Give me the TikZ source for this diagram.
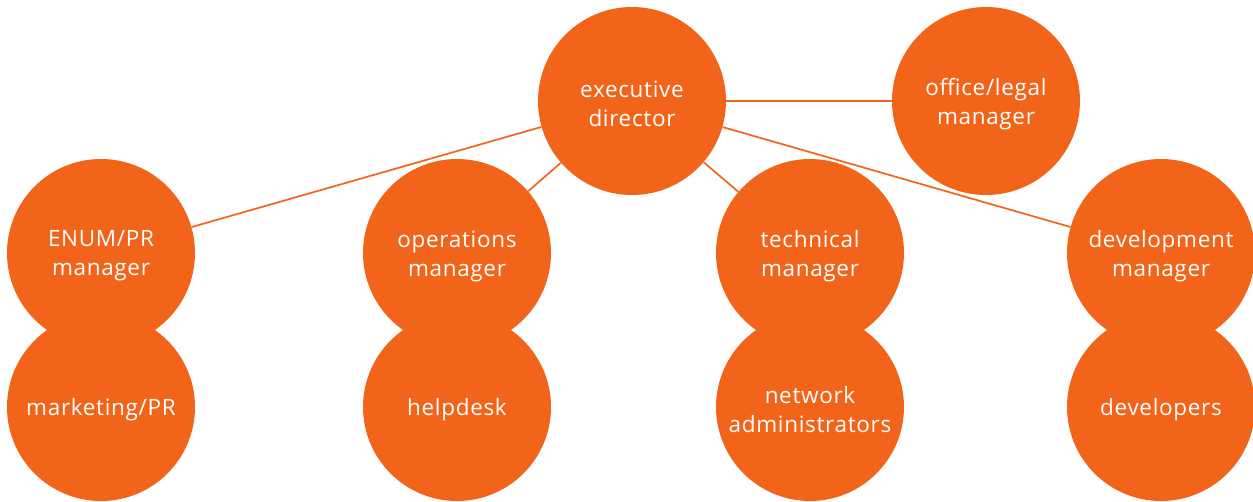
\documentclass[tikz,border=0pt]{standalone}
\usepackage{fontspec}
\setmainfont[LetterSpace=3]{Open Sans}
\usepackage{tikz}
\definecolor{staforange}{HTML}{F2641A}

\begin{document}
\begin{tikzpicture}[x=1pt,y=1pt,
	rolename/.style={text=white,align=center,inner sep=0pt,yshift=-3pt,font=\fontsize{22.5}{29}\selectfont},
	role/.style={circle,fill=staforange,minimum size=188pt,inner sep=0pt,label={[rolename]center:#1}},
	link/.style={draw=staforange,line width=1.7pt}]
	\useasboundingbox (0,0) rectangle (1253,-501);
	% top
	\node[role={executive\\director}] (exec) at (632,-101) {};
	\node[role={office/legal\\manager}] (office) at (986,-101) {};
	% managers
	\node[role={ENUM/PR\\manager}] (enum) at (101,-253) {};
	\node[role={operations\\manager}] (ops) at (457,-253) {};
	\node[role={technical\\manager}] (tech) at (810,-253) {};
	\node[role={development\\manager}] (dev) at (1161,-253) {};
	% teams
	\node[role={marketing/PR}] (mkt) at (101,-407) {};
	\node[role={helpdesk}] (help) at (457,-407) {};
	\node[role={network\\administrators}] (net) at (810,-407) {};
	\node[role={developers}] (devs) at (1161,-407) {};
	\draw[link] (exec) -- (office);
	\draw[link] (exec) -- (enum);
	\draw[link] (exec) -- (ops);
	\draw[link] (exec) -- (tech);
	\draw[link] (exec) -- (dev);
\end{tikzpicture}
\end{document}
